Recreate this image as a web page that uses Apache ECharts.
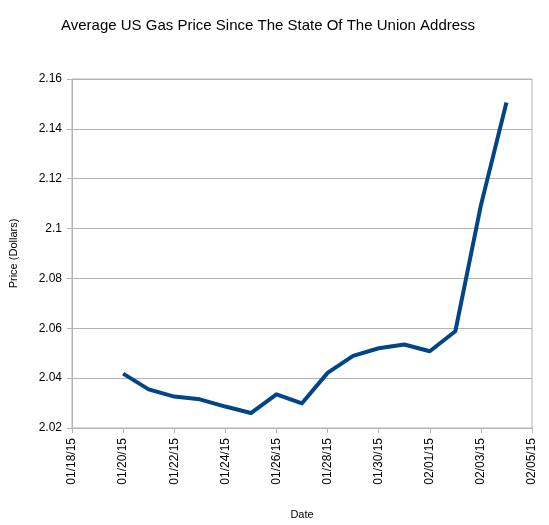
<!DOCTYPE html>
<html>
<head>
<meta charset="utf-8">
<script src="https://cdn.jsdelivr.net/npm/echarts@6/dist/echarts.min.js"></script>
<style>
  html, body { margin: 0; padding: 0; background: #fff; }
  #main { width: 549px; height: 525px; }
</style>
</head>
<body>
<div id="main"></div>
<script>
// daily average prices
const dates = ['01/20/15', '01/21/15', '01/22/15', '01/23/15', '01/24/15', '01/25/15',
  '01/26/15', '01/27/15', '01/28/15', '01/29/15', '01/30/15', '01/31/15',
  '02/01/15', '02/02/15', '02/03/15', '02/04/15'];
const prices = [2.0418, 2.0355, 2.0326, 2.0315, 2.0286, 2.026,
  2.0335, 2.0299, 2.0421, 2.0489, 2.052, 2.0535,
  2.0508, 2.0588, 2.1093, 2.1506];
const xStart = '01/18/15';
const xEnd = '02/05/15';

const DAY = 86400000;
// mm/dd/yy -> day number
function toDay(s) {
  const p = s.split('/');
  return Date.UTC(2000 + (+p[2]), +p[0] - 1, +p[1]) / DAY;
}
function fmtDay(d) {
  const t = new Date(d * DAY);
  const mm = String(t.getUTCMonth() + 1).padStart(2, '0');
  const dd = String(t.getUTCDate()).padStart(2, '0');
  const yy = String(t.getUTCFullYear() % 100).padStart(2, '0');
  return mm + '/' + dd + '/' + yy;
}

const font = 'Liberation Sans, Arial, sans-serif';
const chart = echarts.init(document.getElementById('main'));

chart.setOption({
  backgroundColor: '#fff',
  animation: false,
  title: {
    text: 'Average US Gas Price Since The State Of The Union Address',
    left: 56,
    top: 13,
    textStyle: { fontFamily: font, fontSize: 15, fontWeight: 'normal', color: '#000' }
  },
  grid: { left: 68, right: 17, top: 79, bottom: 93, show: true, borderColor: '#b3b3b3', borderWidth: 1 },
  xAxis: {
    type: 'value',
    min: toDay(xStart),
    max: toDay(xEnd),
    interval: 2,
    name: 'Date',
    nameLocation: 'middle',
    nameGap: 81,
    nameTextStyle: { fontFamily: font, fontSize: 11, color: '#000' },
    axisLine: { lineStyle: { color: '#b3b3b3' } },
    axisTick: { show: true, length: 5, inside: false, lineStyle: { color: '#b3b3b3' } },
    axisLabel: {
      rotate: 90,
      margin: 10,
      fontFamily: font,
      fontSize: 12,
      color: '#000',
      formatter: v => fmtDay(v)
    },
    splitLine: { show: false }
  },
  yAxis: {
    type: 'value',
    min: 2.02,
    max: 2.16,
    interval: 0.02,
    name: 'Price (Dollars)',
    nameLocation: 'middle',
    nameGap: 53,
    nameTextStyle: { fontFamily: font, fontSize: 11, color: '#000' },
    axisLine: { show: true, lineStyle: { color: '#b3b3b3' } },
    axisTick: { show: true, length: 5, lineStyle: { color: '#b3b3b3' } },
    axisLabel: {
      margin: 10,
      fontFamily: font,
      fontSize: 12,
      color: '#000',
      formatter: v => String(+v.toFixed(2))
    },
    splitLine: { lineStyle: { color: '#b3b3b3', width: 1 } }
  },
  series: [{
    type: 'line',
    data: dates.map((d, i) => [toDay(d), prices[i]]),
    showSymbol: false,
    lineStyle: { color: '#004586', width: 4, join: 'round' },
    itemStyle: { color: '#004586' }
  }]
});
</script>
</body>
</html>
